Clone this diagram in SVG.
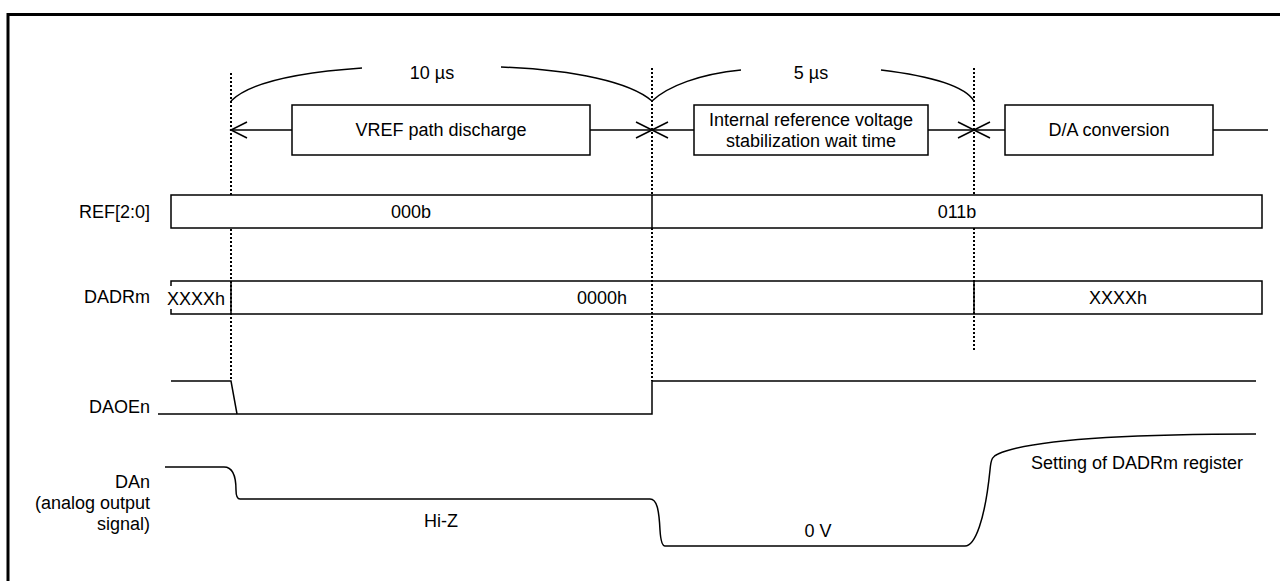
<svg xmlns="http://www.w3.org/2000/svg" width="1280" height="581" viewBox="0 0 1280 581">
<style>
text{font-family:"Liberation Sans",Arial,sans-serif;font-size:18px;fill:#000}
.c{text-anchor:middle}
.r{text-anchor:end}
.ln{fill:none;stroke:#000;stroke-width:1.5}
.bx{fill:#fff;stroke:#000;stroke-width:1.5}
.dot{fill:none;stroke:#000;stroke-width:2;stroke-dasharray:2 2}
</style>
<rect width="1280" height="581" fill="#fff"/>
<g id="frame">
<path d="M8,581 V14.5 H1280" fill="none" stroke="#000" stroke-width="3"/>
</g>
<g id="connectors">
<line class="dot" x1="231" y1="73" x2="231" y2="381"/>
<line class="dot" x1="652" y1="68" x2="652" y2="381"/>
<line class="dot" x1="974" y1="68" x2="974" y2="352"/>
<path class="ln" d="M231,130 H292 M590,130 H694 M928,130 H1005 M1213,130 H1268"/>
<path class="ln" d="M247,122 L231,130 L247,138"/>
<path class="ln" d="M636,122 L668,138 M636,138 L668,122"/>
<path class="ln" d="M958,122 L990,138 M958,138 L990,122"/>
</g>
<g id="time-braces">
<path class="ln" d="M231,101 C248,84 290,73 362,68"/>
<path class="ln" d="M501,67 C575,70 630,82 652,101"/>
<text class="c" x="432" y="79">10 µs</text>
<path class="ln" d="M652,101 C668,86 700,74 741,70"/>
<path class="ln" d="M881,70 C930,76 965,86 974,101"/>
<text class="c" x="811" y="79">5 µs</text>
</g>
<g id="phase-vref">
<rect class="bx" x="292" y="105" width="298" height="50"/>
<text class="c" x="441" y="136">VREF path discharge</text>
</g>
<g id="phase-stab">
<rect class="bx" x="694" y="105" width="234" height="50"/>
<text class="c" x="811" y="126">Internal reference voltage</text>
<text class="c" x="811" y="147">stabilization wait time</text>
</g>
<g id="phase-da">
<rect class="bx" x="1005" y="105" width="208" height="50"/>
<text class="c" x="1109" y="136">D/A conversion</text>
</g>
<g id="sig-ref">
<text class="r" x="150" y="218">REF[2:0]</text>
<rect class="bx" x="171" y="195" width="1091" height="33"/>
<line class="ln" x1="652" y1="195" x2="652" y2="228"/>
<text class="c" x="411" y="218">000b</text>
<text class="c" x="957" y="218">011b</text>
</g>
<g id="sig-dadrm">
<text class="r" x="150" y="303">DADRm</text>
<path class="ln" d="M171,286 V281 H1262 V314 H171 V309"/>
<line class="ln" x1="231" y1="281" x2="231" y2="314"/>
<line class="ln" x1="974" y1="281" x2="974" y2="314"/>
<text class="c" x="196" y="305">XXXXh</text>
<text class="c" x="602" y="304">0000h</text>
<text class="c" x="1118" y="304">XXXXh</text>
</g>
<g id="sig-daoen">
<text class="r" x="150" y="413">DAOEn</text>
<path class="ln" d="M171,381 H231 L237,414"/>
<path class="ln" d="M158,414 H652 V381 H1256"/>
</g>
<g id="sig-dan">
<text class="r" x="150" y="488">DAn</text>
<text class="r" x="150" y="509">(analog output</text>
<text class="r" x="150" y="530">signal)</text>
<path class="ln" d="M165,467 H224 C232,467 236,475 236,490 Q236,499 240,499 H650 C657,499 659,510 660,530 Q661,546 665,546 H965 C975,546 985,520 990,470 C991,458 993,456 998,454 C1030,440 1120,434 1256,434"/>
<text class="c" x="441" y="527">Hi-Z</text>
<text class="c" x="818" y="537">0 V</text>
<text class="c" x="1137" y="469">Setting of DADRm register</text>
</g>
</svg>
